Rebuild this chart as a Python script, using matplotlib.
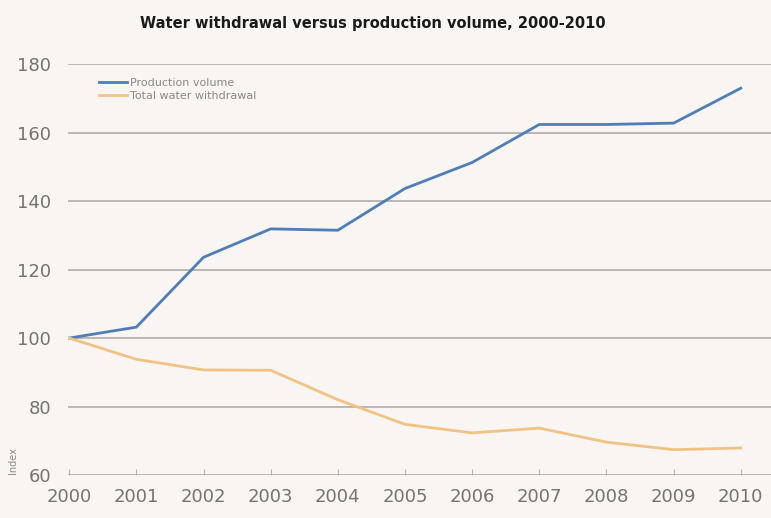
import matplotlib.pyplot as plt

years = [2000, 2001, 2002, 2003, 2004, 2005, 2006, 2007, 2008, 2009, 2010]
production = [100, 103.2, 123.6, 131.9, 131.5, 143.7, 151.3, 162.4, 162.4, 162.8, 173.0]
water = [100, 93.8, 90.7, 90.6, 82.0, 74.8, 72.3, 73.7, 69.6, 67.4, 67.9]
yticks = [60, 80, 100, 120, 140, 160, 180]

bg = '#f8f5f2'
fig = plt.figure(figsize=(7.71, 5.18), dpi=100, facecolor=bg)
ax = fig.add_axes([0.088, 0.083, 0.912, 0.793], facecolor=bg)

# lineas de la cuadricula
for y in yticks:
    ax.axhline(y, color='#b5b2af', lw=1.3, zorder=1)

ax.plot(years, production, color='#4f7db8', lw=2.0, label='Production volume', zorder=3)
ax.plot(years, water, color='#f2c285', lw=2.0, label='Total water withdrawal', zorder=3)

ax.set_xlim(1999.98, 2010.45)
ax.set_ylim(60, 180)
ax.set_xticks(years)
ax.set_yticks(yticks)
ax.tick_params(axis='x', direction='in', length=4, color='#b5b2af', labelsize=13,
               labelcolor='#757371', pad=9)
ax.tick_params(axis='y', length=0, labelsize=13, labelcolor='#757371', pad=12)
for s in ax.spines.values():
    s.set_visible(False)

ax.legend(loc='upper left', bbox_to_anchor=(0.03, 0.99), frameon=False, fontsize=8,
          labelcolor='#8a8886', handlelength=2.5, handletextpad=0.3, labelspacing=0.2)

fig.text(0.483, 0.955, 'Water withdrawal versus production volume, 2000-2010',
         ha='center', va='center', fontsize=10.5, fontweight='bold', color='#1a1a1a')
fig.text(0.017, 0.11, 'Index', rotation=90, ha='center', va='center', fontsize=7,
         color='#8a8886')

fig.savefig('out.png', dpi=100, facecolor=bg)
